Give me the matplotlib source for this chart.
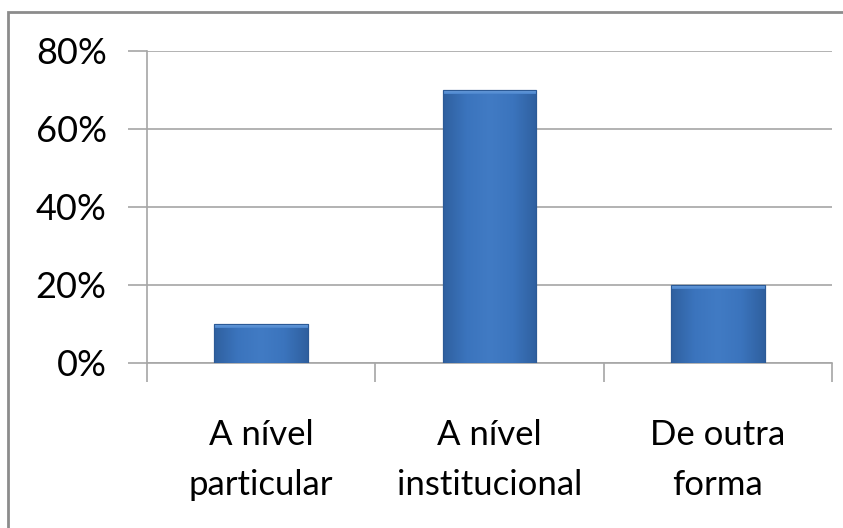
import numpy as np
import matplotlib
matplotlib.use("Agg")
import matplotlib.pyplot as plt
from matplotlib.patches import Rectangle
from matplotlib.colors import LinearSegmentedColormap

# === Data ===
categories = ["A nível\nparticular", "A nível\ninstitucional", "De outra\nforma"]
values = [0.10, 0.70, 0.20]
y_ticks = [0.0, 0.2, 0.4, 0.6, 0.8]
y_tick_labels = ["0%", "20%", "40%", "60%", "80%"]

plt.rcParams["font.family"] = ["Lato", "DejaVu Sans"]

W, H = 843, 528
fig = plt.figure(figsize=(W / 100, H / 100), dpi=100)
fig.patch.set_facecolor("white")

# outer chart border (cropped at right/bottom like the screenshot)
fig.patches.append(Rectangle((8 / W, -0.05), 1.1, 1 - 12 / H + 0.05,
                             transform=fig.transFigure, fill=False,
                             edgecolor="#8c8c8c", linewidth=2.0))

ax = fig.add_axes([147 / W, 1 - 363 / H, (832 - 147) / W, (363 - 51) / H])
x = np.arange(len(categories))
bars = ax.bar(x, values, width=0.41, color="#3d74bb", edgecolor="#2c5a96",
              linewidth=0.8, zorder=3)

# bevel-like shading on each bar
shade = LinearSegmentedColormap.from_list(
    "bev", ["#2f609f", "#3b74bd", "#417bc4", "#3b74bd", "#2f609f"])
grad = np.linspace(0, 1, 200).reshape(1, -1)
top_shade = LinearSegmentedColormap.from_list("top", ["#4a84cc", "#78aae4"])
tgrad = np.linspace(0, 1, 50).reshape(-1, 1)
for b in bars:
    x0, w, h = b.get_x(), b.get_width(), b.get_height()
    im = ax.imshow(grad, cmap=shade, aspect="auto", zorder=3.5,
                   extent=[x0, x0 + w, 0, h])
    im.set_clip_path(b)
    top = min(h * 0.15, 0.011)
    im2 = ax.imshow(tgrad, cmap=top_shade, aspect="auto", zorder=3.6,
                    origin="lower", extent=[x0, x0 + w, h - top, h])
    im2.set_clip_path(b)
    ax.add_patch(Rectangle((x0, 0), w, h, fill=False,
                           edgecolor="#2c5a96", linewidth=0.8, zorder=3.8))

ax.set_xlim(-0.5, len(categories) - 0.5)
ax.set_ylim(0, 0.8)
ax.set_yticks(y_ticks)
ax.set_yticklabels(y_tick_labels)
ax.yaxis.grid(True, color="#a6a6a6", linewidth=1.2, zorder=0)
ax.set_axisbelow(True)

ax.set_xticks(np.arange(len(categories) + 1) - 0.5)
ax.set_xticklabels([])
ax.tick_params(axis="x", length=14, width=1.2, color="#a6a6a6")
ax.tick_params(axis="y", length=14, width=1.2, color="#a6a6a6",
               labelsize=26, pad=15)
for s in ["top", "right"]:
    ax.spines[s].set_visible(False)
for s in ["left", "bottom"]:
    ax.spines[s].set_color("#a6a6a6")
    ax.spines[s].set_linewidth(1.2)

for i, lab in enumerate(categories):
    ax.annotate(lab, xy=(i, 0), xycoords=("data", "axes fraction"),
                xytext=(0, -40), textcoords="offset points",
                ha="center", va="top", fontsize=25, linespacing=1.7)

fig.savefig("out.png", dpi=100, facecolor="white")
